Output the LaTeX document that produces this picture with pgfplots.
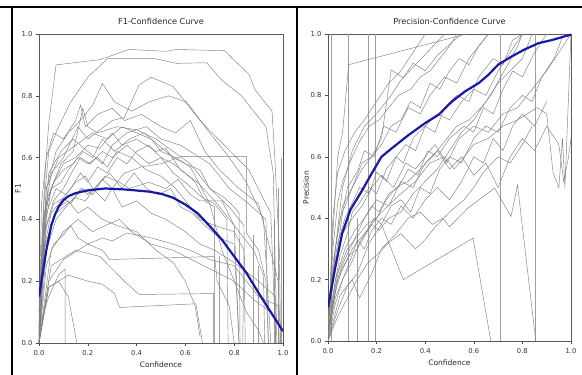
\documentclass[border=0pt]{standalone}
\usepackage{pgfplots}
\pgfplotsset{compat=1.18}
\usepackage{fontspec}
\setmainfont{DejaVu Sans}
\pgfplotsset{
  gr/.style={black!50, line width=0.45pt},
  vl/.style={black!38, line width=0.55pt},
  mean/.style={color={rgb,255:red,25;green,25;blue,165}, line width=2.2pt, line join=round},
  panel/.style={
    scale only axis, anchor=south west,
    xmin=0, xmax=1, ymin=0, ymax=1,
    xtick={0,0.2,0.4,0.6,0.8,1}, ytick={0,0.2,0.4,0.6,0.8,1},
    tick pos=left, tick align=outside, major tick length=3pt,
    every tick/.style={black!70, line width=0.5pt},
    axis line style={black!65, line width=0.5pt},
    /pgf/number format/.cd, fixed, fixed zerofill, precision=1, assume math mode=true,
    /pgfplots/.cd,
    tick label style={font=\fontsize{6.8}{7.5}\selectfont, text=black!80},
    xticklabel style={yshift=-0.5pt},
    label style={font=\fontsize{7.5}{9}\selectfont, text=black!85},
    title style={font=\fontsize{8.2}{9.5}\selectfont, text=black!85, at={(axis description cs:0.5,1)}, anchor=center, yshift=7pt},
    xlabel style={at={(axis description cs:0.5,0)}, anchor=center, yshift=-22pt},
    no markers,
  }
}
\begin{document}
\begin{tikzpicture}[x=1pt,y=1pt]
\useasboundingbox (0,0) rectangle (582,375);
\begin{axis}[panel, at={(39pt,32pt)}, width=244pt, height=309pt,
  title={F1-Confidence Curve}, xlabel={Confidence}, ylabel={F1},
  ylabel style={at={(axis description cs:-0.086,0.5)}, anchor=center}]
\addplot[vl] coordinates {(0.74,0.28)(0.74,0)};
\addplot[vl] coordinates {(0.88,0.35)(0.88,0)};
\addplot[vl] coordinates {(0.9,0.25)(0.9,0)};
\addplot[vl] coordinates {(0.965,0.4)(0.965,0)};
\addplot[vl] coordinates {(0.98,0.5)(0.98,0)};
\addplot[vl] coordinates {(0.992,0.6)(0.992,0)};
\addplot[gr] coordinates {(0,0.02)(0.01,0.3)(0.025,0.55)(0.04,0.71)(0.07,0.9)(0.25,0.917)(0.37,0.95)(0.52,0.944)(0.565,0.95)(0.76,0.946)(0.86,0.87)(0.885,0.82)(0.955,0.75)(0.965,0.62)(0.985,0.3)(0.99,0)};
\addplot[gr] coordinates {(0,0.05)(0.02,0.45)(0.04,0.62)(0.08,0.7)(0.13,0.78)(0.2,0.86)(0.28,0.92)(0.475,0.92)(0.564,0.905)(0.687,0.907)(0.75,0.85)(0.83,0.8)(0.93,0.7)(0.96,0.55)(0.975,0)};
\addplot[gr] coordinates {(0,0.1)(0.03,0.5)(0.07,0.62)(0.12,0.68)(0.18,0.73)(0.22,0.77)(0.26,0.84)(0.31,0.78)(0.38,0.75)(0.45,0.78)(0.53,0.8)(0.605,0.78)(0.7,0.68)(0.78,0.6)(0.85,0.52)(0.92,0.4)(0.95,0.0)};
\addplot[gr] coordinates {(0,0.08)(0.02,0.4)(0.05,0.55)(0.1,0.6)(0.16,0.7)(0.2,0.66)(0.3,0.72)(0.35,0.73)(0.41,0.835)(0.46,0.86)(0.55,0.83)(0.66,0.72)(0.76,0.64)(0.86,0.56)(0.95,0.42)(0.97,0)};
\addplot[gr] coordinates {(0,0.0)(0.02,0.35)(0.05,0.5)(0.09,0.58)(0.14,0.62)(0.18,0.76)(0.2,0.7)(0.24,0.68)(0.32,0.7)(0.4,0.69)(0.48,0.66)(0.55,0.62)(0.62,0.58)(0.7,0.5)(0.78,0.44)(0.84,0.38)(0.845,0)};
\addplot[gr] coordinates {(0,0.12)(0.02,0.42)(0.06,0.52)(0.1,0.58)(0.15,0.6)(0.2,0.64)(0.25,0.63)(0.3,0.68)(0.34,0.64)(0.4,0.66)(0.48,0.62)(0.52,0.63)(0.58,0.56)(0.65,0.52)(0.72,0.46)(0.8,0.38)(0.82,0)};
\addplot[gr] coordinates {(0,0.0)(0.03,0.38)(0.06,0.46)(0.1,0.5)(0.14,0.56)(0.17,0.6)(0.21,0.58)(0.26,0.62)(0.3,0.6)(0.36,0.64)(0.42,0.6)(0.45,0.58)(0.5,0.6)(0.55,0.55)(0.6,0.52)(0.67,0.47)(0.72,0.45)(0.77,0.4)(0.775,0)};
\addplot[gr] coordinates {(0,0.05)(0.02,0.3)(0.05,0.42)(0.09,0.46)(0.13,0.5)(0.17,0.55)(0.2,0.52)(0.24,0.57)(0.28,0.55)(0.32,0.6)(0.36,0.58)(0.4,0.62)(0.45,0.64)(0.5,0.6)(0.55,0.58)(0.6,0.55)(0.64,0.52)(0.68,0.46)(0.72,0.44)(0.72,0)};
\addplot[gr] coordinates {(0,0.0)(0.03,0.3)(0.07,0.4)(0.12,0.45)(0.18,0.5)(0.22,0.48)(0.26,0.53)(0.3,0.5)(0.35,0.55)(0.42,0.57)(0.5,0.58)(0.585,0.604)(0.85,0.604)(0.85,0.356)(0.9,0.3)(0.93,0.2)(0.94,0)};
\addplot[gr] coordinates {(0,0.03)(0.02,0.25)(0.04,0.35)(0.07,0.42)(0.1,0.44)(0.15,0.47)(0.19,0.46)(0.23,0.5)(0.27,0.54)(0.33,0.52)(0.37,0.5)(0.45,0.52)(0.52,0.5)(0.57,0.53)(0.62,0.48)(0.66,0.46)(0.75,0.46)(0.8,0.38)(0.88,0.3)(0.92,0.22)(0.925,0)};
\addplot[gr] coordinates {(0,0.0)(0.03,0.25)(0.06,0.32)(0.1,0.35)(0.13,0.38)(0.16,0.34)(0.2,0.32)(0.26,0.34)(0.3,0.33)(0.36,0.356)(0.46,0.34)(0.55,0.32)(0.62,0.3)(0.7,0.27)(0.8,0.25)(0.9,0.15)(0.98,0.12)(0.985,0)};
\addplot[gr] coordinates {(0,0.05)(0.04,0.15)(0.08,0.22)(0.107,0.24)(0.107,0)};
\addplot[gr] coordinates {(0,0.0)(0.04,0.18)(0.08,0.2)(0.12,0.15)(0.155,0)};
\addplot[gr] coordinates {(0,0)(0.04,0.2)(0.1,0.27)(0.16,0.3)(0.2,0.32)(0.26,0.3)(0.29,0.27)(0.72,0.28)(0.73,0.2)(0.78,0.12)(0.8,0)};
\addplot[gr] coordinates {(0,0)(0.04,0.18)(0.12,0.22)(0.2,0.2)(0.26,0.19)(0.31,0.16)(0.33,0.115)(0.643,0.127)(0.67,0)};
\addplot[gr] coordinates {(0.0,0.0)(0.05,0.25)(0.15,0.3)(0.25,0.28)(0.35,0.2)(0.41,0.157)(0.716,0.16)(0.716,0)};
\addplot[gr] coordinates {(0,0.0)(0.01,0.45)(0.03,0.6)(0.06,0.68)(0.1,0.66)(0.15,0.72)(0.17,0.77)(0.19,0.7)(0.24,0.74)(0.3,0.76)(0.35,0.72)(0.42,0.74)(0.5,0.7)(0.56,0.68)(0.62,0.72)(0.68,0.62)(0.74,0.56)(0.82,0.5)(0.9,0.45)(0.98,0.2)(0.99,0)};
\addplot[gr] coordinates {(0,0.1)(0.02,0.4)(0.05,0.5)(0.09,0.52)(0.12,0.56)(0.16,0.6)(0.2,0.58)(0.24,0.6)(0.28,0.57)(0.32,0.62)(0.38,0.6)(0.44,0.56)(0.5,0.54)(0.56,0.5)(0.62,0.44)(0.66,0.4)(0.72,0.38)(0.8,0.36)(0.84,0.3)(0.835,0)};
\addplot[gr] coordinates {(0,0.0)(0.03,0.42)(0.07,0.5)(0.11,0.48)(0.15,0.52)(0.19,0.54)(0.22,0.5)(0.27,0.46)(0.3,0.5)(0.34,0.44)(0.4,0.46)(0.46,0.42)(0.52,0.4)(0.6,0.36)(0.66,0.32)(0.72,0.3)(0.8,0.26)(0.9,0.2)(0.97,0.15)(0.97,0)};
\addplot[gr] coordinates {(0,0.04)(0.02,0.35)(0.06,0.45)(0.1,0.47)(0.13,0.45)(0.17,0.5)(0.2,0.48)(0.25,0.52)(0.29,0.55)(0.34,0.5)(0.39,0.55)(0.44,0.5)(0.49,0.48)(0.54,0.5)(0.58,0.44)(0.63,0.42)(0.68,0.38)(0.74,0.34)(0.8,0.32)(0.82,0.0)};
\addplot[gr] coordinates {(0,0)(0.03,0.5)(0.08,0.6)(0.15,0.64)(0.22,0.68)(0.28,0.66)(0.34,0.7)(0.4,0.68)(0.46,0.66)(0.5,0.62)(0.56,0.6)(0.62,0.57)(0.7,0.45)(0.75,0.3)(0.8,0.2)(0.85,0.1)(0.9,0.04)(0.92,0)};
\addplot[gr] coordinates {(0,0.02)(0.02,0.3)(0.05,0.38)(0.08,0.44)(0.12,0.46)(0.16,0.42)(0.2,0.44)(0.26,0.4)(0.32,0.38)(0.4,0.36)(0.48,0.3)(0.55,0.26)(0.6,0.2)(0.64,0.12)(0.66,0.02)};
\addplot[gr] coordinates {(0,0.0)(0.04,0.55)(0.09,0.62)(0.14,0.66)(0.2,0.62)(0.26,0.58)(0.3,0.64)(0.36,0.68)(0.44,0.7)(0.5,0.66)(0.58,0.64)(0.66,0.6)(0.7,0.58)(0.78,0.5)(0.86,0.45)(0.93,0.4)(0.94,0)};
\addplot[gr] coordinates {(0,0.06)(0.03,0.46)(0.06,0.52)(0.1,0.56)(0.14,0.58)(0.18,0.62)(0.22,0.6)(0.26,0.66)(0.31,0.62)(0.37,0.66)(0.43,0.68)(0.49,0.64)(0.55,0.6)(0.6,0.58)(0.66,0.56)(0.7,0.5)(0.76,0.47)(0.8,0.44)(0.82,0.42)(0.824,0)};
\addplot[gr] coordinates {(0,0.0)(0.05,0.3)(0.1,0.36)(0.16,0.4)(0.22,0.36)(0.27,0.38)(0.33,0.4)(0.38,0.36)(0.46,0.32)(0.55,0.3)(0.6,0.28)(0.7,0.24)(0.8,0.2)(0.88,0.14)(0.95,0.1)(0.99,0.05)};
\addplot[mean] coordinates {(0,0.15)(0.01,0.2)(0.02,0.25)(0.03,0.30)(0.04,0.34)(0.05,0.38)(0.065,0.415)(0.08,0.44)(0.1,0.462)(0.12,0.475)(0.15,0.485)(0.2,0.494)(0.27,0.5)(0.35,0.497)(0.45,0.49)(0.5,0.483)(0.55,0.47)(0.6,0.448)(0.65,0.42)(0.7,0.378)(0.75,0.334)(0.8,0.28)(0.85,0.227)(0.9,0.162)(0.95,0.1)(1.0,0.038)};
\end{axis}
\begin{axis}[panel, at={(328pt,34pt)}, width=243pt, height=307pt,
  title={Precision-Confidence Curve}, xlabel={Confidence}, ylabel={Precision},
  ylabel style={at={(axis description cs:-0.09,0.5)}, anchor=center}]
\addplot[vl] coordinates {(0.014,0)(0.014,1)};
\addplot[vl] coordinates {(0.082,0)(0.082,1)};
\addplot[vl] coordinates {(0.12,0)(0.12,0.4)};
\addplot[vl] coordinates {(0.166,0)(0.166,1)};
\addplot[vl] coordinates {(0.193,0)(0.193,1)};
\addplot[vl] coordinates {(0.709,0)(0.709,1)};
\addplot[vl] coordinates {(0.855,0)(0.855,1)};
\addplot[gr] coordinates {(0,0.02)(0.02,0.35)(0.04,0.6)(0.06,0.68)(0.085,0.9)(0.57,1.0)};
\addplot[gr] coordinates {(0,0)(0.03,0.3)(0.06,0.5)(0.1,0.62)(0.15,0.7)(0.2,0.74)(0.26,0.8)(0.3,0.85)(0.36,0.9)(0.42,0.95)(0.48,1.0)};
\addplot[gr] coordinates {(0,0.05)(0.02,0.25)(0.05,0.4)(0.1,0.5)(0.14,0.58)(0.18,0.6)(0.22,0.66)(0.26,0.883)(0.31,0.857)(0.35,0.905)(0.4,0.88)(0.45,0.93)(0.52,0.98)(0.55,1.0)};
\addplot[gr] coordinates {(0,0.08)(0.02,0.2)(0.04,0.3)(0.06,0.42)(0.08,0.5)(0.12,0.55)(0.15,0.62)(0.19,0.6)(0.23,0.7)(0.28,0.68)(0.33,0.76)(0.38,0.74)(0.42,0.8)(0.48,0.86)(0.53,0.84)(0.58,0.92)(0.62,0.96)(0.66,1.0)};
\addplot[gr] coordinates {(0,0)(0.02,0.15)(0.05,0.28)(0.08,0.35)(0.1,0.42)(0.13,0.45)(0.17,0.5)(0.2,0.48)(0.24,0.56)(0.28,0.6)(0.31,0.58)(0.35,0.66)(0.4,0.7)(0.44,0.68)(0.48,0.76)(0.53,0.8)(0.58,0.78)(0.62,0.86)(0.68,0.92)(0.72,0.9)(0.76,0.98)(0.8,1.0)};
\addplot[gr] coordinates {(0,0.1)(0.02,0.22)(0.04,0.32)(0.07,0.4)(0.1,0.45)(0.13,0.5)(0.17,0.48)(0.2,0.55)(0.24,0.52)(0.28,0.6)(0.32,0.64)(0.36,0.62)(0.4,0.7)(0.45,0.74)(0.5,0.72)(0.55,0.78)(0.6,0.82)(0.65,0.8)(0.7,0.88)(0.75,0.94)(0.8,1.0)};
\addplot[gr] coordinates {(0,0.03)(0.03,0.18)(0.06,0.25)(0.09,0.3)(0.12,0.35)(0.15,0.4)(0.18,0.44)(0.21,0.42)(0.25,0.48)(0.29,0.5)(0.33,0.56)(0.37,0.54)(0.41,0.62)(0.45,0.6)(0.5,0.66)(0.56,0.7)(0.6,0.68)(0.64,0.76)(0.68,0.74)(0.72,0.82)(0.76,0.88)(0.8,0.86)(0.85,0.94)(0.9,1.0)};
\addplot[gr] coordinates {(0,0.0)(0.03,0.12)(0.06,0.2)(0.1,0.26)(0.13,0.32)(0.16,0.36)(0.19,0.4)(0.22,0.38)(0.26,0.44)(0.3,0.46)(0.34,0.42)(0.38,0.5)(0.42,0.48)(0.46,0.56)(0.5,0.6)(0.55,0.58)(0.6,0.66)(0.65,0.7)(0.7,0.68)(0.75,0.76)(0.8,0.8)(0.84,0.78)(0.88,0.86)(0.93,0.92)(0.97,1.0)};
\addplot[gr] coordinates {(0,0)(0.04,0.1)(0.08,0.18)(0.12,0.22)(0.17,0.32)(0.22,0.38)(0.31,0.2)(0.47,0.275)(0.597,0.335)(0.67,0)};
\addplot[gr] coordinates {(0,0.0)(0.05,0.15)(0.1,0.2)(0.13,0.14)(0.18,0.22)(0.22,0.3)(0.28,0.35)(0.33,0.4)(0.38,0.42)(0.43,0.38)(0.473,0.4)(0.5,0.372)(0.576,0.433)(0.686,0.498)(0.753,0.405)(0.78,0.508)(0.855,0)};
\addplot[gr] coordinates {(0,0.02)(0.04,0.2)(0.1,0.3)(0.16,0.36)(0.22,0.42)(0.3,0.48)(0.36,0.52)(0.42,0.58)(0.48,0.6)(0.52,0.56)(0.6,0.64)(0.66,0.66)(0.72,0.7)(0.78,0.72)(0.86,0.76)(0.9,0.74)(0.926,0.55)(0.95,0.5)(0.965,0.66)(0.975,0.5)(1.0,1.0)};
\addplot[gr] coordinates {(0,0.05)(0.03,0.25)(0.06,0.35)(0.1,0.4)(0.14,0.44)(0.18,0.5)(0.22,0.54)(0.27,0.5)(0.32,0.58)(0.36,0.56)(0.4,0.6)(0.44,0.64)(0.49,0.58)(0.54,0.66)(0.6,0.7)(0.66,0.68)(0.72,0.74)(0.78,0.76)(0.82,0.8)(0.86,0.84)(0.9,0.88)(0.95,0.94)(1.0,1.0)};
\addplot[gr] coordinates {(0,0)(0.03,0.2)(0.07,0.3)(0.11,0.36)(0.15,0.4)(0.2,0.46)(0.25,0.44)(0.3,0.52)(0.35,0.5)(0.4,0.58)(0.45,0.62)(0.5,0.56)(0.55,0.6)(0.6,0.54)(0.65,0.58)(0.7,0.5)(0.75,0.6)(0.8,0.66)(0.85,0.62)(0.9,0.7)(0.95,0.64)(0.97,0.52)(0.99,0.6)(1.0,0.66)};
\addplot[gr] coordinates {(0,0.0)(0.02,0.3)(0.04,0.45)(0.06,0.52)(0.08,0.56)(0.1,0.6)(0.13,0.65)(0.17,0.7)(0.21,0.72)(0.25,0.76)(0.29,0.8)(0.34,0.82)(0.38,0.86)(0.42,0.88)(0.46,0.92)(0.5,0.96)(0.53,1.0)};
\addplot[gr] coordinates {(0,0.02)(0.03,0.14)(0.07,0.22)(0.1,0.28)(0.12,0.33)(0.15,0.3)(0.18,0.36)(0.22,0.4)(0.26,0.38)(0.3,0.44)(0.35,0.4)(0.4,0.46)(0.45,0.5)(0.5,0.46)(0.55,0.52)(0.6,0.6)(0.64,0.58)(0.68,0.66)(0.72,0.62)(0.76,0.7)(0.8,0.74)(0.85,0.7)(0.9,0.78)};
\addplot[gr] coordinates {(0,0.0)(0.04,0.22)(0.08,0.3)(0.12,0.34)(0.16,0.38)(0.2,0.4)(0.24,0.46)(0.28,0.5)(0.33,0.52)(0.38,0.56)(0.43,0.6)(0.48,0.65)(0.53,0.7)(0.58,0.72)(0.63,0.76)(0.67,0.8)(0.71,0.86)(0.74,0.9)(0.78,0.96)(0.8,1.0)};
\addplot[gr] coordinates {(0,0.06)(0.03,0.3)(0.06,0.44)(0.1,0.5)(0.14,0.56)(0.18,0.6)(0.22,0.64)(0.26,0.7)(0.3,0.72)(0.34,0.78)(0.38,0.76)(0.42,0.84)(0.46,0.82)(0.5,0.88)(0.54,0.92)(0.58,0.9)(0.62,0.96)(0.66,1.0)};
\addplot[gr] coordinates {(0,0)(0.04,0.08)(0.08,0.14)(0.12,0.2)(0.16,0.25)(0.2,0.28)(0.25,0.32)(0.3,0.35)(0.36,0.3)(0.4,0.33)(0.44,0.37)(0.5,0.42)(0.56,0.46)(0.6,0.5)(0.64,0.55)(0.7,0.6)(0.75,0.58)(0.8,0.64)(0.84,0.7)};
\addplot[gr] coordinates {(0,0.0)(0.02,0.4)(0.04,0.55)(0.07,0.62)(0.11,0.68)(0.15,0.72)(0.2,0.78)(0.25,0.84)(0.3,0.88)(0.35,0.94)(0.4,1.0)};
\addplot[gr] coordinates {(0,0.04)(0.03,0.16)(0.06,0.24)(0.09,0.28)(0.12,0.3)(0.15,0.34)(0.18,0.38)(0.21,0.36)(0.25,0.4)(0.3,0.42)(0.35,0.48)(0.4,0.52)(0.45,0.56)(0.5,0.62)(0.55,0.68)(0.6,0.72)(0.65,0.78)(0.7,0.84)(0.75,0.88)(0.8,0.92)(0.84,1.0)};
\addplot[mean] coordinates {(0,0.11)(0.03,0.24)(0.058,0.35)(0.092,0.427)(0.14,0.49)(0.18,0.546)(0.22,0.6)(0.263,0.628)(0.33,0.67)(0.4,0.71)(0.455,0.737)(0.51,0.78)(0.564,0.813)(0.62,0.84)(0.66,0.867)(0.7,0.9)(0.756,0.927)(0.81,0.95)(0.866,0.97)(0.92,0.98)(1.0,0.998)};
\end{axis}
\draw[black, line width=2pt] (0,368) -- (582,368);
\draw[black, line width=2pt] (12,0) -- (12,369);
\draw[black, line width=2pt] (296.5,0) -- (296.5,369);
\end{tikzpicture}
\end{document}
